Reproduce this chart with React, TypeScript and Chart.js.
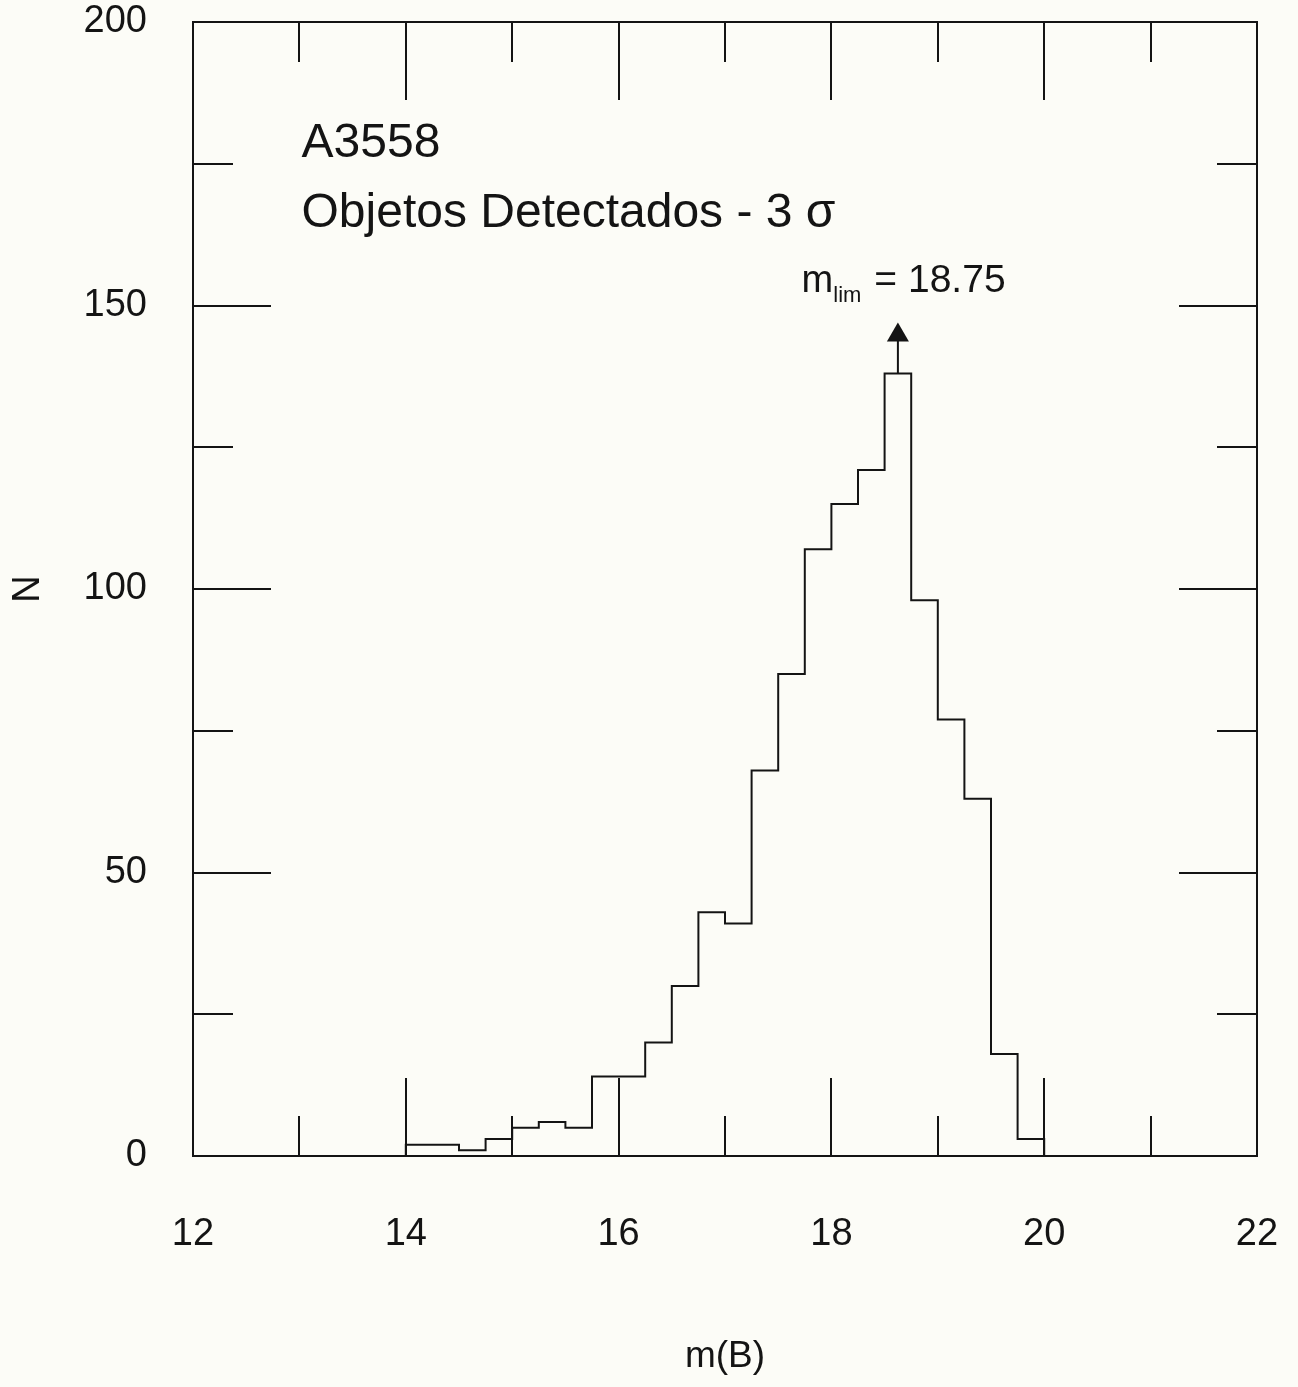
import React, { useEffect, useRef } from "react";
import { Chart, registerables } from "chart.js";

Chart.register(...registerables);

// ---- data ----
const binStarts = [
  14.0, 14.25, 14.5, 14.75, 15.0, 15.25, 15.5, 15.75, 16.0, 16.25, 16.5, 16.75,
  17.0, 17.25, 17.5, 17.75, 18.0, 18.25, 18.5, 18.75, 19.0, 19.25, 19.5, 19.75,
];
const counts = [
  2, 2, 1, 3, 5, 6, 5, 14, 14, 20, 30, 43,
  41, 68, 85, 107, 115, 121, 138, 98, 77, 63, 18, 3,
];
const histEnd = 20.0;

const xMajorTicks = [12, 14, 16, 18, 20, 22];
const xMinorTicks = [13, 15, 17, 19, 21];
const yMajorTicks = [0, 50, 100, 150, 200];
const yMinorTicks = [25, 75, 125, 175];

const labelCluster = "A3558";
const labelDetect = "Objetos Detectados - 3 σ";
const labelMlimMain = "m";
const labelMlimSub = "lim";
const labelMlimValue = "= 18.75";

const arrowX = 18.625;
const arrowFrom = 138;
const arrowTo = 147;

const INK = "#141414";
const BG = "#fcfcf7";
const FONT = "'Liberation Sans', Arial, Helvetica, sans-serif";

const zeroPad = (s: any) => {
  s.paddingTop = 0;
  s.paddingBottom = 0;
  s.paddingLeft = 0;
  s.paddingRight = 0;
};

const decorPlugin = {
  id: "decor",
  beforeDraw(chart: any) {
    const { ctx, width, height } = chart;
    ctx.save();
    ctx.fillStyle = BG;
    ctx.fillRect(0, 0, width, height);
    ctx.restore();
  },
  afterDraw(chart: any) {
    const { ctx, chartArea } = chart;
    const { left, right, top, bottom } = chartArea;
    const xs = chart.scales.x;
    const ys = chart.scales.y;
    ctx.save();
    ctx.strokeStyle = INK;
    ctx.lineWidth = 2;
    ctx.strokeRect(left, top, right - left, bottom - top);

    const MAJ = 78;
    const MIN = 40;
    ctx.beginPath();
    const xt = (v: number, len: number) => {
      const px = Math.round(xs.getPixelForValue(v));
      ctx.moveTo(px, bottom);
      ctx.lineTo(px, bottom - len);
      ctx.moveTo(px, top);
      ctx.lineTo(px, top + len);
    };
    const yt = (v: number, len: number) => {
      const py = Math.round(ys.getPixelForValue(v));
      ctx.moveTo(left, py);
      ctx.lineTo(left + len, py);
      ctx.moveTo(right, py);
      ctx.lineTo(right - len, py);
    };
    xMajorTicks.forEach((v) => xt(v, MAJ));
    xMinorTicks.forEach((v) => xt(v, MIN));
    yMajorTicks.forEach((v) => yt(v, MAJ));
    yMinorTicks.forEach((v) => yt(v, MIN));
    ctx.stroke();

    // arrow
    const ax = xs.getPixelForValue(arrowX);
    const ay0 = ys.getPixelForValue(arrowFrom);
    const ay1 = ys.getPixelForValue(arrowTo);
    ctx.beginPath();
    ctx.moveTo(ax, ay0);
    ctx.lineTo(ax, ay1 + 18);
    ctx.stroke();
    ctx.fillStyle = INK;
    ctx.beginPath();
    ctx.moveTo(ax, ay1);
    ctx.lineTo(ax - 11, ay1 + 19);
    ctx.lineTo(ax + 11, ay1 + 19);
    ctx.closePath();
    ctx.fill();

    // texts
    ctx.fillStyle = INK;
    ctx.textBaseline = "alphabetic";
    ctx.textAlign = "left";
    ctx.font = `48px ${FONT}`;
    ctx.fillText(labelCluster, xs.getPixelForValue(13.02), ys.getPixelForValue(176.2));
    ctx.fillText(labelDetect, xs.getPixelForValue(13.02), ys.getPixelForValue(163.8));

    const mx = xs.getPixelForValue(17.72);
    const my = ys.getPixelForValue(152.4);
    ctx.font = `38px ${FONT}`;
    ctx.fillText(labelMlimMain, mx, my);
    const mw = ctx.measureText(labelMlimMain).width;
    ctx.font = `22px ${FONT}`;
    ctx.fillText(labelMlimSub, mx + mw, my + 10);
    const sw = ctx.measureText(labelMlimSub).width;
    ctx.font = `39px ${FONT}`;
    ctx.fillText(labelMlimValue, mx + mw + sw + 13, my);
    ctx.restore();
  },
};

export default function App() {
  const ref = useRef<HTMLCanvasElement | null>(null);

  useEffect(() => {
    if (!ref.current) return;
    const points = [
      { x: binStarts[0], y: 0 },
      ...binStarts.map((b, i) => ({ x: b, y: counts[i] })),
      { x: histEnd, y: 0 },
    ];
    const chart = new Chart(ref.current, {
      type: "line",
      data: {
        datasets: [
          {
            data: points,
            stepped: "before",
            borderColor: INK,
            borderWidth: 2,
            pointRadius: 0,
            fill: false,
          } as any,
        ],
      },
      options: {
        animation: false,
        responsive: false,
        devicePixelRatio: 1,
        layout: { padding: { top: 22, right: 41, left: 0, bottom: 0 } },
        plugins: { legend: { display: false }, tooltip: { enabled: false } },
        scales: {
          x: {
            type: "linear",
            min: 12,
            max: 22,
            ticks: {
              stepSize: 2,
              color: INK,
              font: { family: FONT, size: 38 },
              padding: 48,
              maxRotation: 0,
            },
            grid: { display: false },
            border: { display: false },
            title: {
              display: true,
              text: "m(B)",
              color: INK,
              font: { family: FONT, size: 37 },
              padding: { top: 4, bottom: 8 },
            },
            afterFit: (s: any) => {
              s.height = 231;
              zeroPad(s);
            },
          },
          y: {
            min: 0,
            max: 200,
            ticks: {
              stepSize: 50,
              color: INK,
              font: { family: FONT, size: 38 },
              padding: 38,
            },
            grid: { display: false },
            border: { display: false },
            title: {
              display: true,
              text: "N",
              color: INK,
              font: { family: FONT, size: 38 },
              padding: { top: 6, bottom: 0 },
            },
            afterFit: (s: any) => {
              s.width = 193;
              zeroPad(s);
            },
          },
        },
      },
      plugins: [decorPlugin],
    });
    return () => chart.destroy();
  }, []);

  return (
    <div style={{ position: "absolute", left: 0, top: 0, width: 1298, height: 1387, background: BG }}>
      <canvas ref={ref} width={1298} height={1387} style={{ display: "block", width: 1298, height: 1387 }} />
    </div>
  );
}
